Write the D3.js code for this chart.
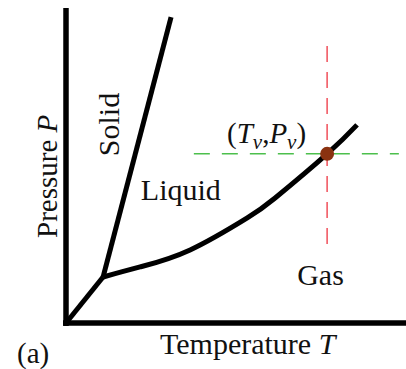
<!DOCTYPE html>
<html><head><meta charset="utf-8">
<script src="https://cdn.jsdelivr.net/npm/d3@7"></script>
<style>body{margin:0;background:#fff}svg{display:block}text{font-family:"Liberation Serif","Times New Roman",serif;fill:#111}</style>
</head><body><svg id="c" width="406" height="369"></svg>
<script>
// Data (T, P in arbitrary units, 0..10)
const sublimation = [[0,0],[1.09,1.46]];
const melting = [[1.09,1.46],[3.09,9.71]];
const vaporization = [[1.09,1.46],[2.18,1.78],[3.65,2.32],[5.32,3.33],[6.15,3.97],[7.68,5.37],[8.56,6.29]];
const vaporPoint = [7.68,5.37];
const vLineP = [2.35,8.79];
const hLineT = [3.76,9.79];
const labels = [
  {text:"Solid", T:1.55, P:6.3, rot:-90},
  {text:"Liquid", T:2.2, P:3.9, rot:0},
  {text:"Gas", T:6.8, P:1.2, rot:0}
];

const svg = d3.select("#c");
const x = d3.scaleLinear().domain([0,10]).range([66,406]);
const y = d3.scaleLinear().domain([0,10]).range([323,8]);

// axes
const gx = svg.append("g").attr("transform",`translate(0,${y(0)})`)
  .call(d3.axisBottom(x).tickValues([]).tickSizeOuter(0));
const gy = svg.append("g").attr("transform",`translate(${x(0)},0)`)
  .call(d3.axisLeft(y).tickValues([]).tickSizeOuter(0));
gx.select(".domain").attr("stroke","#000").attr("stroke-width",5.5).attr("d",`M${x(0)-3},0H406`);
gy.select(".domain").attr("stroke","#000").attr("stroke-width",5.5).attr("d",`M0,${y(0)+3}V${y(10)}`);

// dashed lines
svg.append("line").attr("x1",x(vaporPoint[0])).attr("x2",x(vaporPoint[0]))
  .attr("y1",y(vLineP[1])).attr("y2",y(vLineP[0]))
  .attr("stroke","#f0505a").attr("stroke-width",1.5).attr("stroke-dasharray","16,10");
svg.append("line").attr("x1",x(hLineT[0])).attr("x2",x(hLineT[1]))
  .attr("y1",y(vaporPoint[1])).attr("y2",y(vaporPoint[1]))
  .attr("stroke","#4cbf4c").attr("stroke-width",1.5).attr("stroke-dasharray","16,12");

const line = d3.line().x(d=>x(d[0])).y(d=>y(d[1]));
const curve = d3.line().x(d=>x(d[0])).y(d=>y(d[1])).curve(d3.curveNatural);
[sublimation, melting].forEach(d=>svg.append("path").attr("d",line(d)).attr("fill","none").attr("stroke","#000").attr("stroke-width",5).attr("stroke-linecap","butt").attr("stroke-linejoin","round"));
svg.append("path").attr("d",curve(vaporization)).attr("fill","none").attr("stroke","#000").attr("stroke-width",5).attr("stroke-linejoin","round");

svg.append("circle").attr("cx",x(vaporPoint[0])).attr("cy",y(vaporPoint[1])).attr("r",7).attr("fill","#8a3210");

// labels
labels.forEach(l=>{
  svg.append("text").attr("transform",`translate(${x(l.T)},${y(l.P)}) rotate(${l.rot})`)
    .attr("font-size",30).attr("text-anchor", l.rot? "middle":"start").text(l.text);
});
// (Tv,Pv)
const tp = svg.append("text").attr("x",227).attr("y",143).attr("font-size",29);
tp.append("tspan").text("(");
tp.append("tspan").attr("font-style","italic").text("T");
tp.append("tspan").attr("font-style","italic").attr("font-size",21).attr("dy",6).text("v");
tp.append("tspan").attr("dy",-6).text(",");
tp.append("tspan").attr("font-style","italic").text("P");
tp.append("tspan").attr("font-style","italic").attr("font-size",21).attr("dy",6).text("v");
tp.append("tspan").attr("dy",-6).text(")");

// axis titles
const xt = svg.append("text").attr("x",160).attr("y",354).attr("font-size",30);
xt.append("tspan").text("Temperature ");
xt.append("tspan").attr("font-style","italic").text("T");
const yt = svg.append("text").attr("transform","translate(57,238) rotate(-90)").attr("font-size",29);
yt.append("tspan").text("Pressure ");
yt.append("tspan").attr("font-style","italic").text("P");
svg.append("text").attr("x",17).attr("y",363).attr("font-size",29).text("(a)");
</script></body></html>
